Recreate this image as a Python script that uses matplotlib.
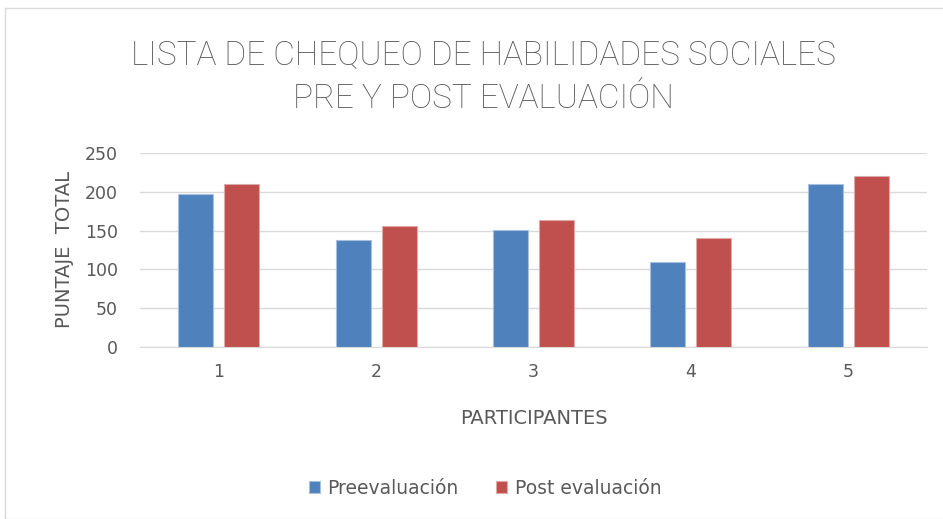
import numpy as np
import matplotlib
matplotlib.use("Agg")
import matplotlib.pyplot as plt
from matplotlib.patches import Rectangle

participants = ["1", "2", "3", "4", "5"]
pre_eval = [198, 138, 151, 109, 210]
post_eval = [210, 156, 164, 140, 221]
series_names = ["Preevaluación", "Post evaluación"]
title = "LISTA DE CHEQUEO DE HABILIDADES SOCIALES\nPRE Y POST EVALUACIÓN"

plt.rcParams.update({
    "font.family": ["DejaVu Sans"],
    "text.color": "#595959",
    "axes.labelcolor": "#595959",
    "xtick.color": "#595959",
    "ytick.color": "#595959",
})

fig = plt.figure(figsize=(9.43, 5.19), dpi=100)
ax = fig.add_axes([140 / 943, 1 - 346.7 / 519, 787 / 943, 193.4 / 519])

# chart frame
fig.patches.append(Rectangle((5 / 943, 0.0), 1.0, 1 - 8 / 519, transform=fig.transFigure,
                             fill=False, edgecolor="#D9D9D9", linewidth=1.0))

x = np.arange(len(participants))
w = 0.222
gap = 0.07
ax.bar(x - (w + gap) / 2, pre_eval, w, color="#4F81BD", edgecolor="#A7C0DE",
       linewidth=0.8, label=series_names[0], zorder=3)
ax.bar(x + (w + gap) / 2, post_eval, w, color="#C0504D", edgecolor="#E0A9A7",
       linewidth=0.8, label=series_names[1], zorder=3)

ax.set_xlim(-0.5, len(participants) - 0.5)
ax.set_ylim(0, 250)
ax.set_yticks(range(0, 251, 50))
ax.set_xticks(x, participants)
ax.yaxis.grid(True, color="#D9D9D9", linewidth=1.0, zorder=0)
for s in ["top", "right", "left"]:
    ax.spines[s].set_visible(False)
ax.spines["bottom"].set_color("#D9D9D9")
ax.tick_params(axis="both", length=0, labelsize=12.5)
ax.tick_params(axis="y", pad=16)
ax.tick_params(axis="x", pad=12)

ax.set_xlabel("PARTICIPANTES", fontsize=14, labelpad=20)
ax.set_ylabel("PUNTAJE  TOTAL", fontsize=14, labelpad=8)

fig.text(483 / 943, 1 - 77 / 519, title, ha="center", va="center", fontsize=24,
         family=["Roboto", "DejaVu Sans"], fontweight="light",
         linespacing=1.45, color="#595959")

ax.legend(loc="center", bbox_to_anchor=(485 / 943, 1 - 488 / 519),
          bbox_transform=fig.transFigure, ncols=2, frameon=False, fontsize=13.5,
          handlelength=0.6, handleheight=0.6, handletextpad=0.4, columnspacing=2.0)

fig.savefig("out.png", dpi=100)
